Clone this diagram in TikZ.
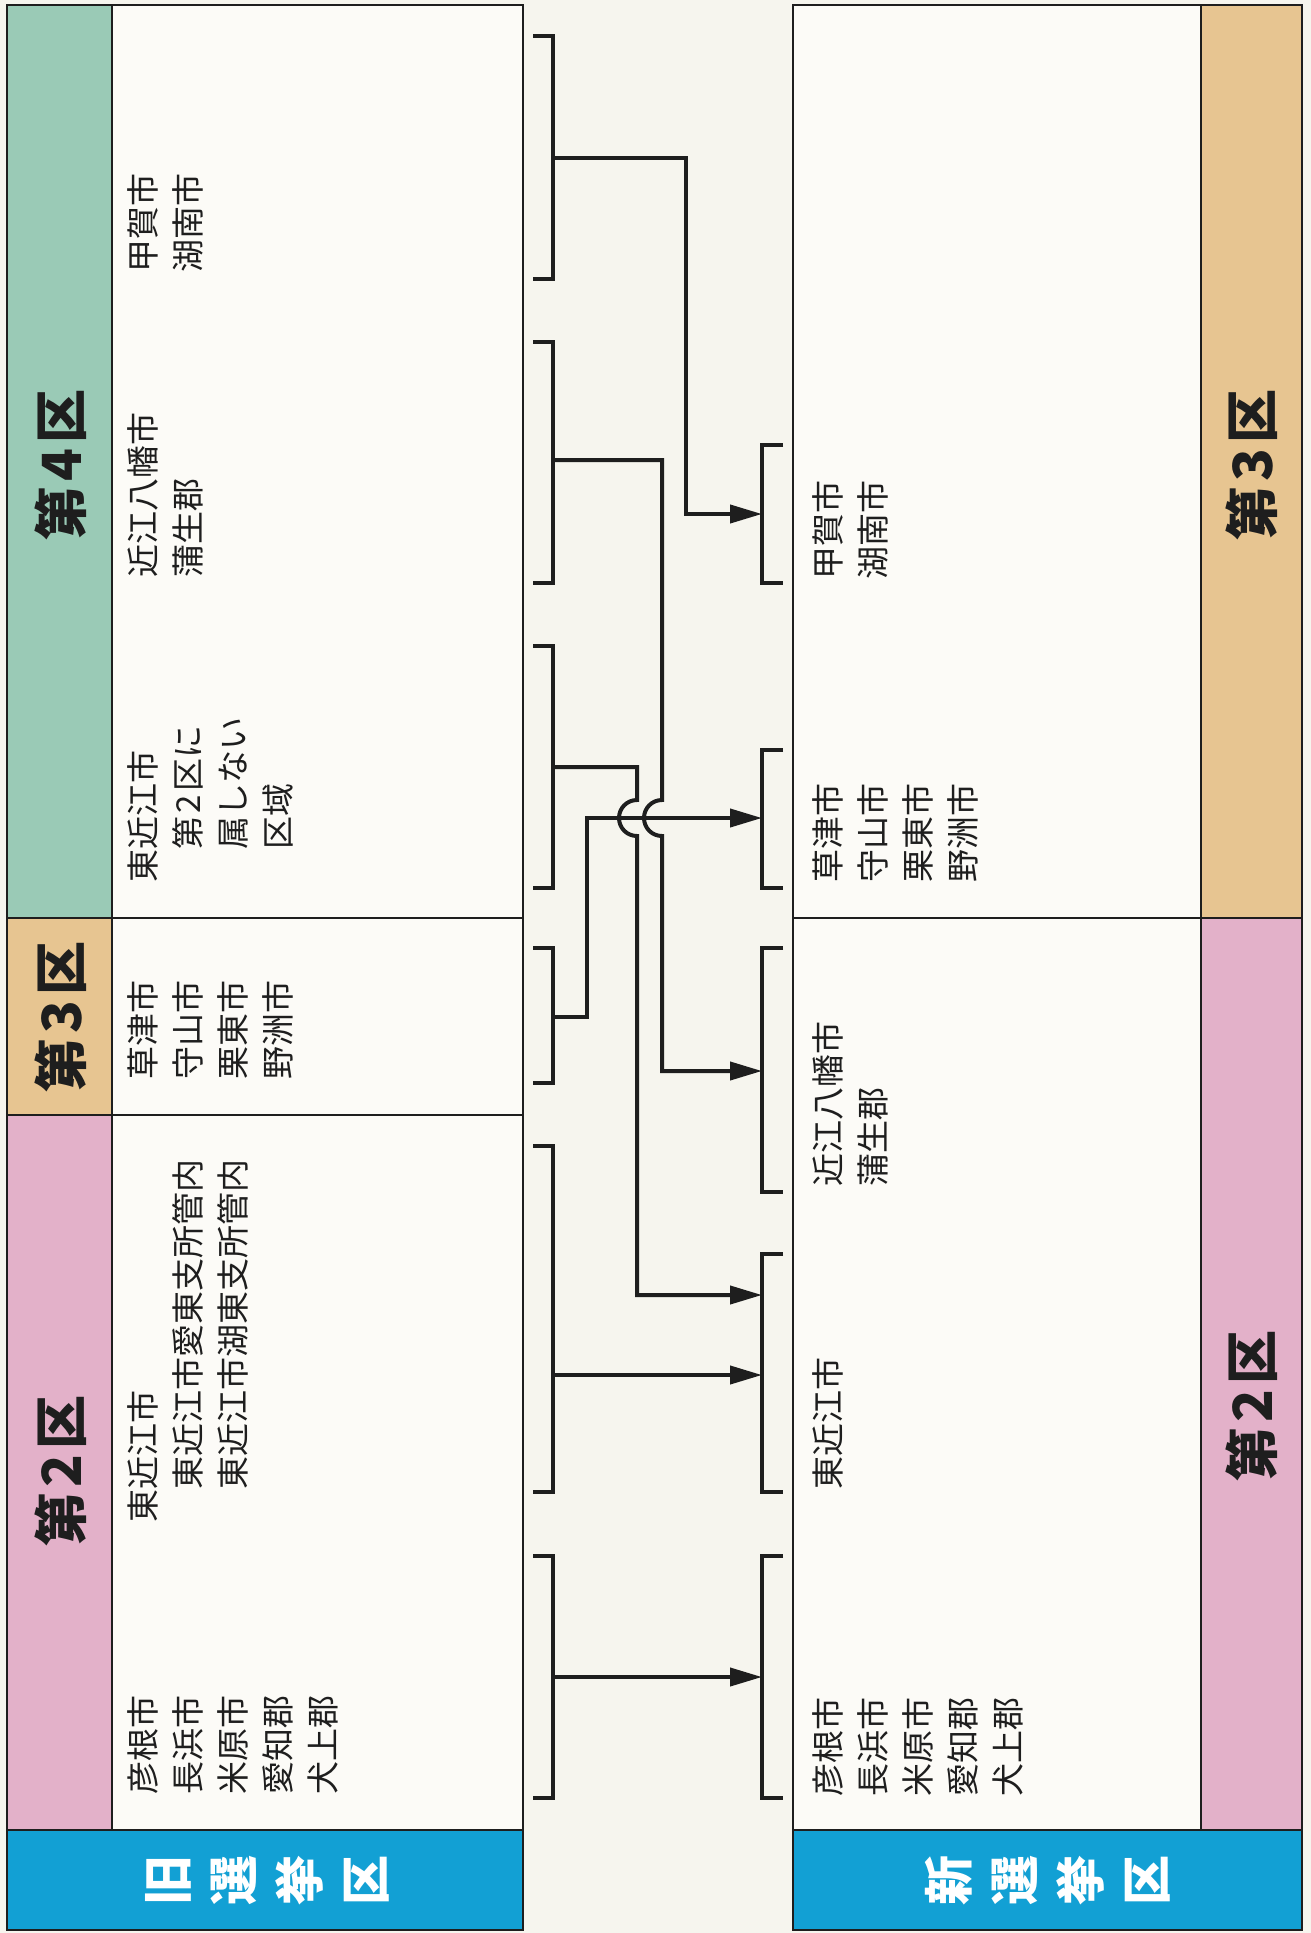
\documentclass[tikz,border=0pt]{standalone}
\usepackage{fontspec}
\setmainfont{Noto Sans CJK JP}
\usetikzlibrary{arrows.meta}
\definecolor{paper}{HTML}{F6F5EE}
\definecolor{boxw}{HTML}{FCFBF7}
\definecolor{mint}{HTML}{9ACAB6}
\definecolor{sand}{HTML}{E7C591}
\definecolor{rose}{HTML}{E3B1C9}
\definecolor{sky}{HTML}{12A0D4}
\definecolor{ink}{HTML}{1E1E1E}
\newcommand{\dg}[1]{\hspace{0.1em}#1\hspace{0.1em}}
\begin{document}
\begin{tikzpicture}[x=1pt,y=-1pt,
 frame/.style={draw=ink, line width=2pt},
 lbl/.style={rotate=90, anchor=north west, inner sep=0pt, align=left, font=\fontsize{33}{45}\selectfont, text=ink},
 hdr/.style={rotate=90, inner sep=0pt, font=\fontsize{54}{60}\selectfont\bfseries, text=ink},
 bluehdr/.style={rotate=90, inner sep=0pt, align=center, font=\fontsize{50}{66}\selectfont\bfseries, text=white},
 brk/.style={draw=ink, line width=4pt, line join=miter},
 conn/.style={draw=ink, line width=4pt, line join=miter, -{Triangle[length=32pt,width=18pt]}},
]
\useasboundingbox (0,0) rectangle (1311,1933);
\fill[paper] (0,0) rectangle (1311,1933);
% ---------- old districts (left) ----------
\fill[boxw] (112,5) rectangle (523,1830);
\fill[mint] (7,5) rectangle (112,918);
\fill[sand] (7,918) rectangle (112,1115);
\fill[rose] (7,1115) rectangle (112,1830);
\fill[sky] (7,1830) rectangle (523,1930);
\draw[frame] (7,5) rectangle (523,1930);
\draw[frame] (112,5) -- (112,1830);
\draw[frame] (7,918) -- (523,918);
\draw[frame] (7,1115) -- (523,1115);
\draw[frame] (7,1830) -- (523,1830);
% ---------- new districts (right) ----------
\fill[boxw] (793,5) rectangle (1201,1830);
\fill[sand] (1201,5) rectangle (1302,918);
\fill[rose] (1201,918) rectangle (1302,1830);
\fill[sky] (793,1830) rectangle (1302,1930);
\draw[frame] (793,5) rectangle (1302,1930);
\draw[frame] (1201,5) -- (1201,1830);
\draw[frame] (793,918) -- (1302,918);
\draw[frame] (793,1830) -- (1302,1830);
% ---------- headers ----------
\node[hdr] (h4o) at (61,465) {第\dg{4}区};
\node[hdr] (h3o) at (61,1017) {第\dg{3}区};
\node[hdr] (h2o) at (61,1471) {第\dg{2}区};
\node[hdr] (h3n) at (1252,465) {第\dg{3}区};
\node[hdr] (h2n) at (1252,1406) {第\dg{2}区};
\node[bluehdr] (oldh) at (267,1880) {旧\\選\\挙\\区};
\node[bluehdr] (newh) at (1048,1880) {新\\選\\挙\\区};
% ---------- old texts ----------
\node[lbl] (t1) at (127,273) {甲賀市\\湖南市};
\node[lbl] (t2) at (127,578) {近江八幡市\\蒲生郡};
\node[lbl] (t3) at (127,883) {東近江市\\　第\dg{2}区に\\　属しない\\　区域};
\node[lbl] (t4) at (127,1080) {草津市\\守山市\\栗東市\\野洲市};
\node[lbl] (t5) at (127,1523) {東近江市\\　東近江市愛東支所管内\\　東近江市湖東支所管内};
\node[lbl] (t6) at (127,1795) {彦根市\\長浜市\\米原市\\愛知郡\\犬上郡};
% ---------- new texts ----------
\node[lbl] (u1) at (812,580) {甲賀市\\湖南市};
\node[lbl] (u2) at (812,883) {草津市\\守山市\\栗東市\\野洲市};
\node[lbl] (u3) at (812,1187) {近江八幡市\\蒲生郡};
\node[lbl] (u4) at (812,1490) {東近江市};
\node[lbl] (u5) at (812,1797) {彦根市\\長浜市\\米原市\\愛知郡\\犬上郡};
% ---------- brackets ----------
\draw[brk] (533,36) -- (553,36) -- (553,279) -- (533,279);
\draw[brk] (533,342) -- (553,342) -- (553,583) -- (533,583);
\draw[brk] (533,646) -- (553,646) -- (553,888) -- (533,888);
\draw[brk] (533,948) -- (553,948) -- (553,1083) -- (533,1083);
\draw[brk] (533,1146) -- (553,1146) -- (553,1492) -- (533,1492);
\draw[brk] (533,1556) -- (553,1556) -- (553,1798) -- (533,1798);
\draw[brk] (783,445) -- (762,445) -- (762,583) -- (783,583);
\draw[brk] (783,750) -- (762,750) -- (762,888) -- (783,888);
\draw[brk] (783,948) -- (762,948) -- (762,1192) -- (783,1192);
\draw[brk] (783,1254) -- (762,1254) -- (762,1492) -- (783,1492);
\draw[brk] (783,1556) -- (762,1556) -- (762,1798) -- (783,1798);
% ---------- connector ends ----------
\coordinate (o1) at (553,158);
\coordinate (o2) at (553,460);
\coordinate (o3) at (553,767);
\coordinate (o4) at (553,1017);
\coordinate (o5) at (553,1375);
\coordinate (o6) at (553,1677);
\coordinate (nA) at (762,514);
\coordinate (nB) at (762,818);
\coordinate (nC) at (762,1071);
\coordinate (nD1) at (762,1295);
\coordinate (nD2) at (762,1375);
\coordinate (nE) at (762,1677);
% ---------- connectors ----------
\draw[conn] (o1) -- (686,158) -- (686,514) -- (nA);
\draw[conn] (o4) -- (587,1017) -- (587,818) -- (nB);
\draw[conn] (o2) -- (662,460) -- (662,800) .. controls (652,800) and (644,808) .. (644,818) .. controls (644,828) and (652,836) .. (662,836) -- (662,1071) -- (nC);
\draw[conn] (o3) -- (637,767) -- (637,800) .. controls (627,800) and (619,808) .. (619,818) .. controls (619,828) and (627,836) .. (637,836) -- (637,1295) -- (nD1);
\draw[conn] (o5) -- (nD2);
\draw[conn] (o6) -- (nE);
\end{tikzpicture}
\end{document}
